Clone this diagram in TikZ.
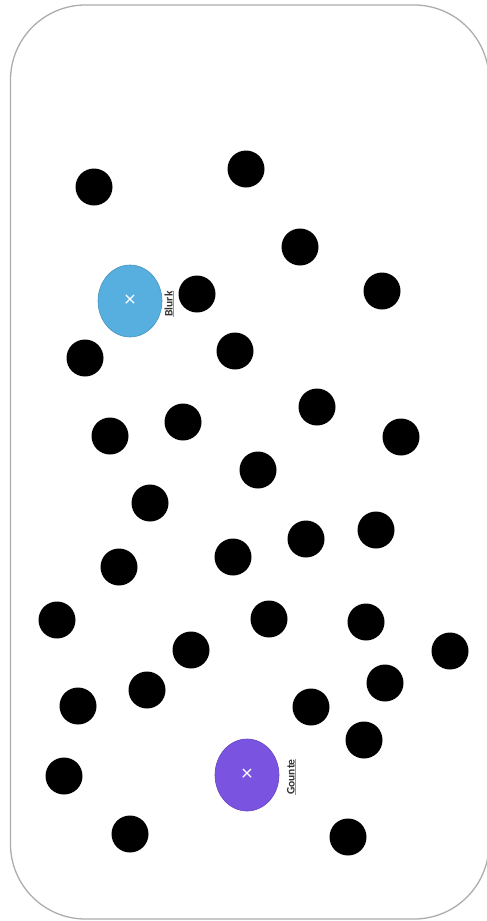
\documentclass[tikz,border=0pt]{standalone}
\usepackage{fontspec}
\setmainfont{Carlito}
\definecolor{blurkblue}{RGB}{86,175,222}
\definecolor{gountepurple}{RGB}{122,84,224}
\tikzset{
  dot/.style={circle,fill=black,inner sep=0pt,minimum size=37pt},
  blob/.style={ellipse,draw=#1!85!black,fill=#1,line width=0.6pt,minimum width=64pt,minimum height=72pt,inner sep=0pt,
    font=\fontsize{22}{22}\selectfont\color{white}},
  tag/.style={rotate=90,inner sep=0.5pt,font=\fontsize{11.5}{12}\selectfont\bfseries,text=black!80}
}
\usetikzlibrary{shapes.geometric}
\begin{document}
\begin{tikzpicture}[x=1pt,y=-1pt]
            \useasboundingbox (0,0) rectangle (487,921);
            \draw[gray!65,line width=1.3pt,rounded corners=75pt] (10.5,5) rectangle (489,919);
            \foreach \x/\y [count=\i] in {94/187, 246/169, 300/247, 197/294, 382/291, 85/358, 235/351,
                    317/407, 110/436, 183/422, 401/437, 258/470, 150/503, 306/539, 376/530,
                    119/567, 233/557, 57/620, 269/619, 366/622, 191/650, 450/651, 78/706,
                    147/690, 311/707, 385/683, 364/740, 64/776, 130/834, 348/837} {
                    \node[dot] (d\i) at (\x,\y) {};
                }
            \node[blob=blurkblue] (blurk) at (130,301) {×};
            \node[tag,anchor=south] (blurktag) at (173.5,304) {Blurk};
            \draw[red!60,line width=0.7pt] (blurktag.south west) -- (blurktag.south east);
            \node[blob=gountepurple] (gounte) at (247,775) {×};
            \node[tag,anchor=south] (gountetag) at (295.5,777) {Gounte};
            \draw[red!60,line width=0.7pt] (gountetag.south west) -- (gountetag.south east);
        \end{tikzpicture}
\end{document}
